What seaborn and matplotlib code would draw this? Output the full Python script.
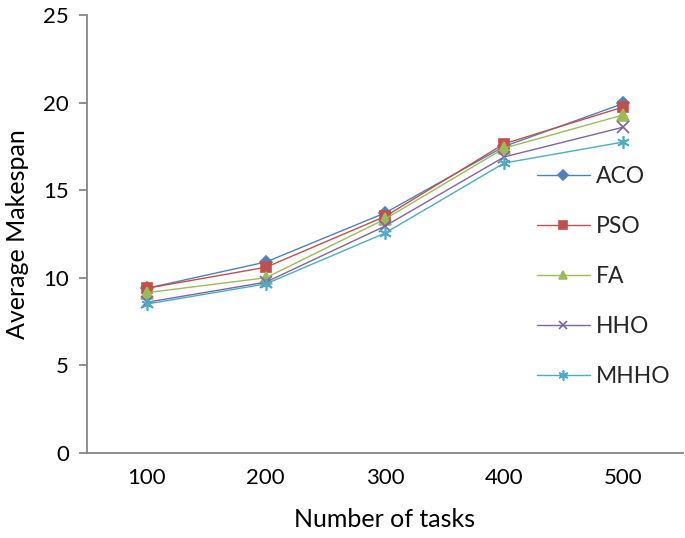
import matplotlib
matplotlib.use("Agg")
import matplotlib.pyplot as plt
import seaborn as sns
import pandas as pd

tasks = ["100", "200", "300", "400", "500"]
aco = [9.4, 10.9, 13.7, 17.5, 19.95]
pso = [9.4, 10.6, 13.5, 17.65, 19.75]
fa = [9.15, 10.0, 13.35, 17.4, 19.3]
hho = [8.6, 9.75, 12.95, 16.9, 18.6]
mhho = [8.5, 9.65, 12.55, 16.55, 17.75]
algorithms = ["ACO", "PSO", "FA", "HHO", "MHHO"]
series = [aco, pso, fa, hho, mhho]

colors = {"ACO": "#4F81BD", "PSO": "#C0504D", "FA": "#9BBB59",
          "HHO": "#8064A2", "MHHO": "#4BACC6"}
markers = {"ACO": "D", "PSO": "s", "FA": "^", "HHO": "x", "MHHO": (6, 2, 0)}
sizes = {"ACO": 6, "PSO": 7.5, "FA": 8, "HHO": 8, "MHHO": 9}

rows = []
for name, vals in zip(algorithms, series):
    for t, v in zip(tasks, vals):
        rows.append({"Number of tasks": t, "Average Makespan": v, "Algorithm": name})
df = pd.DataFrame(rows)

sns.set_style("white")
plt.rcParams["font.family"] = ["Lato", "DejaVu Sans"]

fig = plt.figure(figsize=(6.85, 5.38), dpi=100)
ax = fig.add_axes([87 / 685, 85 / 538, 596 / 685, 438 / 538])

for name in algorithms:
    sub = df[df["Algorithm"] == name]
    sns.lineplot(data=sub, x="Number of tasks", y="Average Makespan", ax=ax,
                 color=colors[name], marker=markers[name], markersize=sizes[name],
                 markeredgecolor=colors[name], markerfacecolor=colors[name],
                 markeredgewidth=1.2, linewidth=1.0, label=name, sort=False)

ax.set_xlim(-0.5, 4.5)
ax.set_ylim(0, 25)
ax.set_yticks([0, 5, 10, 15, 20, 25])
for s in ["top", "right"]:
    ax.spines[s].set_visible(False)
for s in ["left", "bottom"]:
    ax.spines[s].set_color("#868686")
    ax.spines[s].set_linewidth(1.3)
ax.tick_params(axis="y", which="both", left=True, length=6, width=1.3,
               color="#868686", labelsize=16, pad=7, labelcolor="black")
ax.tick_params(axis="x", which="both", bottom=False, length=0,
               labelsize=16, pad=11, labelcolor="black")
ax.set_xlabel("Number of tasks", fontsize=18, labelpad=14, color="black")
ax.set_ylabel("Average Makespan", fontsize=18, labelpad=10, color="black")

leg = ax.legend(loc="upper left", bbox_to_anchor=(537 / 685, 1 - 166 / 538),
                bbox_transform=fig.transFigure, frameon=False, fontsize=16.5,
                labelspacing=1.27, handlelength=2.3, handletextpad=0.28,
                borderpad=0, borderaxespad=0, markerscale=0.8)

fig.savefig("out.png", dpi=100)
